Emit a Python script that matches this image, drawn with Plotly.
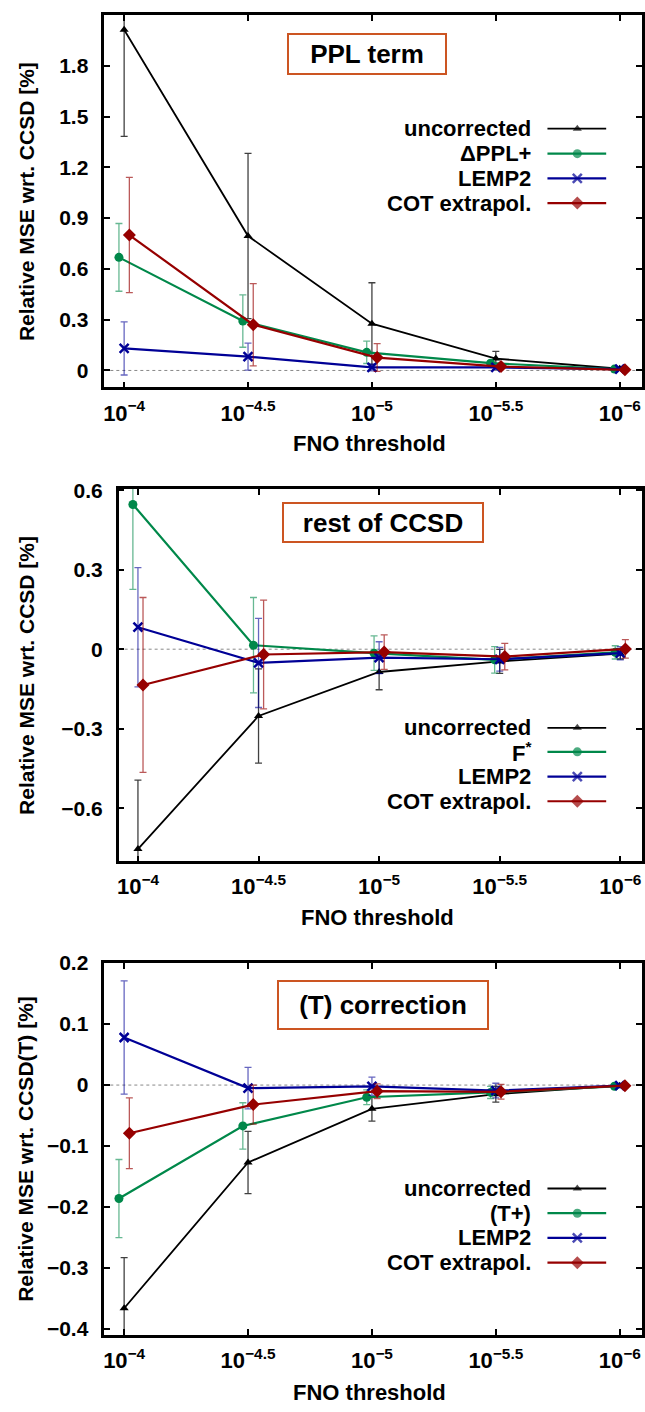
import plotly.graph_objects as go

W, H = 645, 1412

# FNO threshold exponents (threshold = 10^-x)
thresholds = [4.0, 4.5, 5.0, 5.5, 6.0]
tick_text = ["10<sup>−4</sup>", "10<sup>−4.5</sup>", "10<sup>−5</sup>",
             "10<sup>−5.5</sup>", "10<sup>−6</sup>"]

# ---- Panel 1: PPL term ----
ppl_labels = ["uncorrected", "ΔPPL+", "LEMP2", "COT extrapol."]
ppl_uncorr = [2.013, 0.794, 0.276, 0.070, 0.010]
ppl_uncorr_err = [0.63, 0.488, 0.242, 0.043, 0.010]
ppl_dppl = [0.668, 0.292, 0.107, 0.043, 0.008]
ppl_dppl_err = [0.200, 0.155, 0.066, 0.012, 0.006]
ppl_lemp2 = [0.130, 0.082, 0.018, 0.018, 0.008]
ppl_lemp2_err = [0.157, 0.080, 0.020, 0.012, 0.006]
ppl_cot = [0.800, 0.270, 0.076, 0.023, 0.004]
ppl_cot_err = [0.340, 0.243, 0.082, 0.012, 0.006]

# ---- Panel 2: rest of CCSD ----
rest_labels = ["uncorrected", "F<sup>*</sup>", "LEMP2", "COT extrapol."]
rest_uncorr = [-0.754, -0.252, -0.086, -0.046, -0.017]
rest_uncorr_err = [0.26, 0.178, 0.067, 0.045, 0.020]
rest_fstar = [0.546, 0.015, -0.015, -0.040, -0.012]
rest_fstar_err = [0.32, 0.18, 0.065, 0.05, 0.025]
rest_lemp2 = [0.083, -0.052, -0.032, -0.038, -0.015]
rest_lemp2_err = [0.225, 0.168, 0.06, 0.045, 0.025]
rest_cot = [-0.135, -0.020, -0.011, -0.028, 0.001]
rest_cot_err = [0.33, 0.205, 0.065, 0.05, 0.035]

# ---- Panel 3: (T) correction ----
t_labels = ["uncorrected", "(T+)", "LEMP2", "COT extrapol."]
t_uncorr = [-0.366, -0.127, -0.039, -0.015, -0.001]
t_uncorr_err = [0.083, 0.051, 0.020, 0.013, 0.003]
t_tplus = [-0.186, -0.067, -0.020, -0.012, -0.002]
t_tplus_err = [0.064, 0.038, 0.012, 0.010, 0.003]
t_lemp2 = [0.078, -0.005, -0.002, -0.009, -0.001]
t_lemp2_err = [0.093, 0.034, 0.015, 0.012, 0.003]
t_cot = [-0.079, -0.032, -0.010, -0.011, -0.001]
t_cot_err = [0.058, 0.032, 0.012, 0.012, 0.003]

# styles
colors = ["#000000", "#00884a", "#000096", "#960000"]
err_colors = ["rgba(0,0,0,0.75)", "rgba(0,136,74,0.6)", "rgba(0,0,150,0.6)", "rgba(150,0,0,0.65)"]
symbols = ["triangle-up", "circle", "x-thin", "diamond"]
msizes = [8, 9, 9, 10]
lwidths = [1.8, 2.2, 2.2, 2.2]
x_offsets = [0.0, -0.021, 0.0, 0.021]   # horizontal jitter (log10(1.05))

FONT = "Liberation Sans, Arial, Helvetica, sans-serif"

panels = [
    dict(title="PPL term", labels=ppl_labels,
         series=[(ppl_uncorr, ppl_uncorr_err), (ppl_dppl, ppl_dppl_err),
                 (ppl_lemp2, ppl_lemp2_err), (ppl_cot, ppl_cot_err)],
         ytitle="Relative MSE wrt. CCSD [%]",
         yrange=[-0.1, 2.1], ytick=[0, 0.3, 0.6, 0.9, 1.2, 1.5, 1.8],
         px_left=102.8, px_top=4, px_bottom=380.7,
         box=(366.7, 43, 160, 42), legend_rows=[119, 144.3, 169.3, 194.3],
         xtitle_y=437),
    dict(title="rest of CCSD", labels=rest_labels,
         series=[(rest_uncorr, rest_uncorr_err), (rest_fstar, rest_fstar_err),
                 (rest_lemp2, rest_lemp2_err), (rest_cot, rest_cot_err)],
         ytitle="Relative MSE wrt. CCSD [%]",
         yrange=[-0.8, 0.605], ytick=[-0.6, -0.3, 0, 0.3, 0.6],
         px_left=117.2, px_top=483.3, px_bottom=860,
         box=(383, 517.2, 202, 41), legend_rows=[725, 749.3, 774.3, 799.3],
         xtitle_y=917),
    dict(title="(T) correction", labels=t_labels,
         series=[(t_uncorr, t_uncorr_err), (t_tplus, t_tplus_err),
                 (t_lemp2, t_lemp2_err), (t_cot, t_cot_err)],
         ytitle="Relative MSE wrt. CCSD(T) [%]",
         yrange=[-0.41, 0.2005], ytick=[-0.4, -0.3, -0.2, -0.1, 0, 0.1, 0.2],
         px_left=102.8, px_top=962.7, px_bottom=1339.3,
         box=(382.7, 1005.8, 212, 50), legend_rows=[1191, 1216, 1241, 1266],
         xtitle_y=1397),
]

fig = go.Figure()
layout = dict(width=W, height=H, margin=dict(l=0, r=0, t=0, b=0),
              paper_bgcolor="white", plot_bgcolor="rgba(0,0,0,0)",
              showlegend=False, font=dict(family=FONT, color="black"))
annotations = []
shapes = []

PX_RIGHT = 643.0

for i, p in enumerate(panels):
    n = i + 1
    xa = "x" if n == 1 else f"x{n}"
    ya = "y" if n == 1 else f"y{n}"
    xkey = "xaxis" if n == 1 else f"xaxis{n}"
    ykey = "yaxis" if n == 1 else f"yaxis{n}"

    layout[xkey] = dict(
        domain=[p["px_left"] / W, PX_RIGHT / W], anchor=ya,
        range=[3.92, 6.09], tickmode="array", tickvals=thresholds, ticktext=tick_text,
        ticks="inside", ticklen=6, tickwidth=1.5, tickcolor="black",
        showline=True, linewidth=2.5, linecolor="black", mirror="ticks",
        showgrid=False, zeroline=False,
        tickfont=dict(size=22, family=FONT, weight="bold"), ticklabelstandoff=4,
    )
    layout[ykey] = dict(
        domain=[1 - p["px_bottom"] / H, 1 - p["px_top"] / H], anchor=xa,
        range=p["yrange"], tickmode="array", tickvals=p["ytick"],
        ticks="inside", ticklen=6, tickwidth=1.5, tickcolor="black",
        showline=True, linewidth=2.5, linecolor="black", mirror="ticks",
        showgrid=False, zeroline=False,
        tickfont=dict(size=21, family=FONT, weight="bold"), ticklabelstandoff=9,
    )

    # zero dotted line
    shapes.append(dict(type="line", xref=f"{xa} domain", x0=0, x1=1, yref=ya, y0=0, y1=0,
                       line=dict(color="#888888", width=1, dash="dot"), layer="below"))

    for k, (vals, errs) in enumerate(p["series"]):
        fig.add_trace(go.Scatter(
            x=[t + x_offsets[k] for t in thresholds], y=vals,
            xaxis=xa, yaxis=ya, mode="lines+markers",
            line=dict(color=colors[k], width=lwidths[k]),
            marker=dict(symbol=symbols[k], size=msizes[k], color=colors[k],
                        line=dict(color=colors[k], width=2.5 if symbols[k] == "x-thin" else 0)),
            error_y=dict(type="data", array=errs, visible=True, color=err_colors[k],
                         thickness=1.3, width=3.5),
            name=p["labels"][k], cliponaxis=True,
        ))

    # title box
    bx, by, bw, bh = p["box"]
    annotations.append(dict(
        text="<b>" + p["title"] + "</b>", xref="paper", yref="paper",
        x=bx / W, y=1 - by / H, xanchor="center", yanchor="middle",
        showarrow=False, font=dict(size=26, family=FONT, color="black"),
        bordercolor="#cc5522", borderwidth=2, borderpad=0, bgcolor="white",
        width=bw - 4, height=bh - 4,
    ))

    # axis titles
    annotations.append(dict(
        text="<b>" + p["ytitle"] + "</b>", xref="paper", yref="paper",
        x=24 / W, y=1 - (p["px_top"] + p["px_bottom"]) / 2 / H,
        xanchor="center", yanchor="middle", textangle=-90, showarrow=False,
        font=dict(size=21, family=FONT, color="black"),
    ))
    annotations.append(dict(
        text="<b>FNO threshold</b>", xref="paper", yref="paper",
        x=(p["px_left"] + PX_RIGHT) / 2 / W - 0.005, y=1 - p["xtitle_y"] / H,
        xanchor="center", yanchor="middle", showarrow=False,
        font=dict(size=22, family=FONT, color="black"),
    ))

    # custom legend: right-aligned text, sample to the right
    for k, row in enumerate(p["legend_rows"]):
        annotations.append(dict(
            text="<b>" + p["labels"][k] + "</b>", xref="paper", yref="paper",
            x=533 / W, y=1 - row / H, xanchor="right", yanchor="middle",
            showarrow=False, font=dict(size=22, family=FONT, color="black"),
        ))
        fig.add_trace(go.Scatter(
            x=[548, 578, 607], y=[row, row, row], xaxis="x9", yaxis="y9",
            mode="lines+markers", line=dict(color=colors[k], width=lwidths[k]),
            marker=dict(symbol=symbols[k], size=[0, msizes[k], 0], color=colors[k],
                        line=dict(color=colors[k], width=2.5 if symbols[k] == "x-thin" else 0)),
            cliponaxis=False, hoverinfo="skip",
        ))

# full-figure pixel axes for legend samples
layout["xaxis9"] = dict(domain=[0, 1], range=[0, W], visible=False, anchor="y9")
layout["yaxis9"] = dict(domain=[0, 1], range=[H, 0], visible=False, anchor="x9")

layout["annotations"] = annotations
layout["shapes"] = shapes
fig.update_layout(**layout)

POST = (
    "document.documentElement.style.margin='0';"
    "document.documentElement.style.padding='0';"
    "document.body.style.margin='0';document.body.style.padding='0';"
    "document.body.style.overflow='hidden';"
    "var gd=document.getElementById('{plot_id}');"
    "gd.style.position='absolute';gd.style.top='0px';gd.style.left='0px';"
)

fig.write_html("out.html", config={"displayModeBar": False}, post_script=POST)
